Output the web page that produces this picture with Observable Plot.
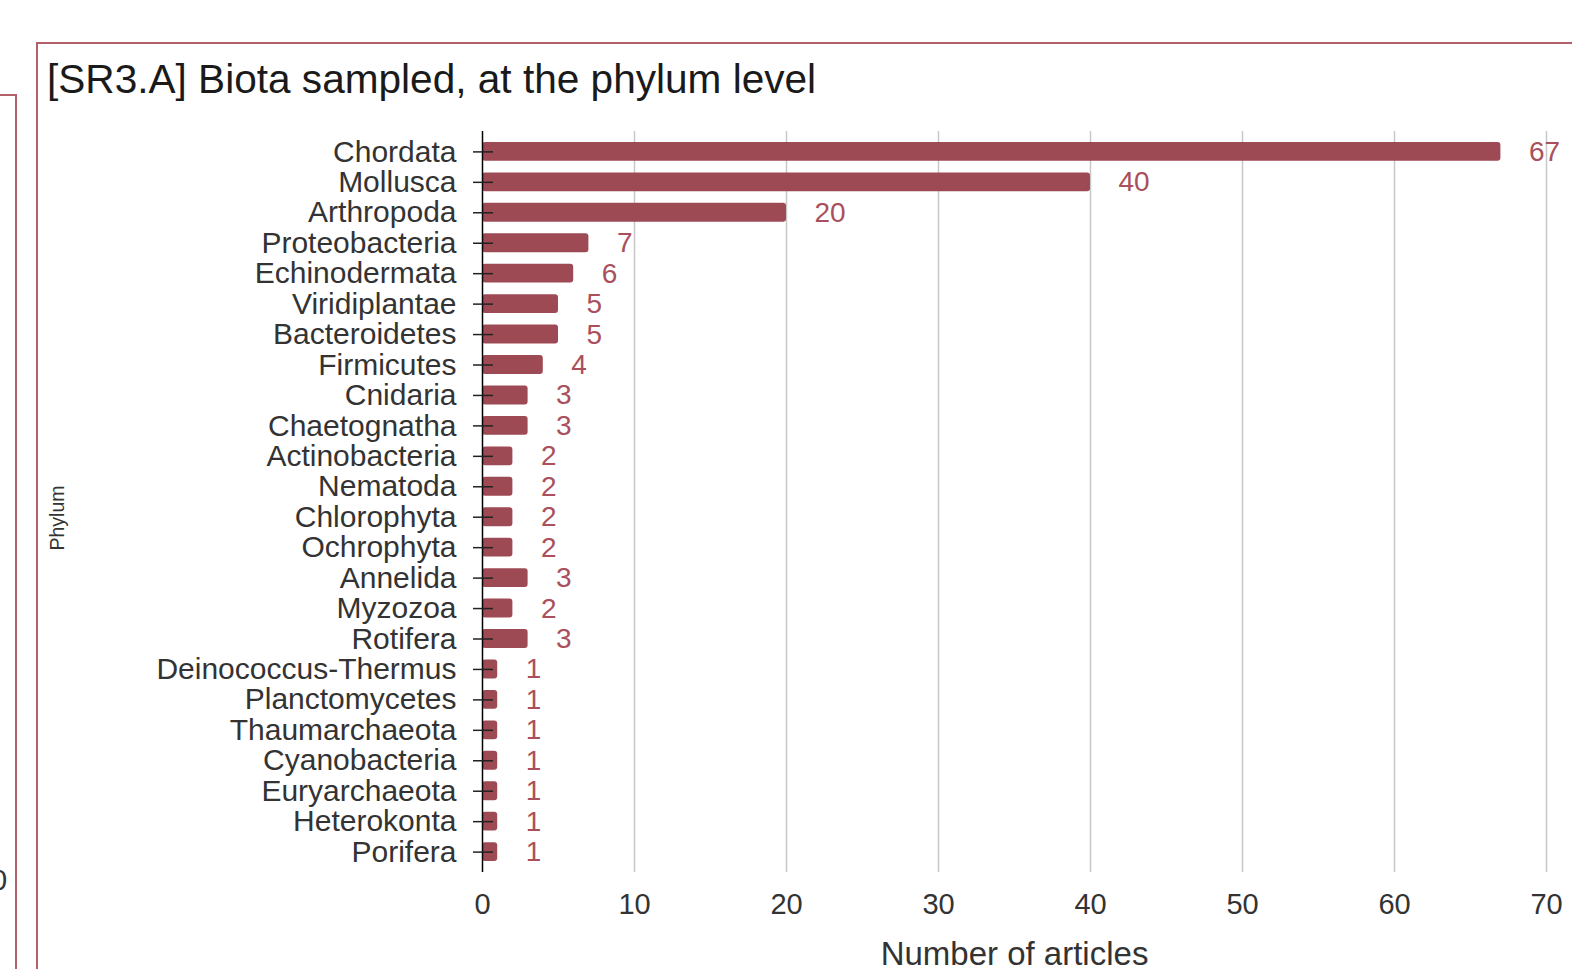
<!DOCTYPE html>
<html>
<head>
<meta charset="utf-8">
<script src="https://cdn.jsdelivr.net/npm/d3@7"></script>
<script src="https://cdn.jsdelivr.net/npm/@observablehq/plot@0.6"></script>
<style>
  html, body { margin: 0; padding: 0; background: #fff; overflow: hidden; }
  #page { position: relative; width: 1572px; height: 969px; overflow: hidden; font-family: "Liberation Sans", Arial, sans-serif; }
  .panel { position: absolute; border: 2px solid #b4606b; box-sizing: border-box; }
  #title { position: absolute; left: 47px; top: 59px; font-size: 40.6px; line-height: 1; color: #1a1a1a; white-space: nowrap; }
  #stub { position: absolute; left: -9px; top: 866px; font-size: 29px; line-height: 1; color: #333; }
  #chart { position: absolute; left: 0; top: 0; }
</style>
</head>
<body>
<div id="page">
  <div class="panel" style="left:-20px; top:94px; width:37px; height:1000px;"></div>
  <div id="stub">0</div>
  <div class="panel" style="left:36px; top:42px; width:1600px; height:1000px;"></div>
  <div id="title">[SR3.A] Biota sampled, at the phylum level</div>
  <div id="chart"></div>
</div>
<script>
// Phyla in display order, top to bottom
const phyla = [
  "Chordata", "Mollusca", "Arthropoda", "Proteobacteria", "Echinodermata",
  "Viridiplantae", "Bacteroidetes", "Firmicutes", "Cnidaria", "Chaetognatha",
  "Actinobacteria", "Nematoda", "Chlorophyta", "Ochrophyta", "Annelida",
  "Myzozoa", "Rotifera", "Deinococcus-Thermus", "Planctomycetes", "Thaumarchaeota",
  "Cyanobacteria", "Euryarchaeota", "Heterokonta", "Porifera"
];
// Number of articles per phylum
const articles = [67, 40, 20, 7, 6, 5, 5, 4, 3, 3, 2, 2, 2, 2, 3, 2, 3, 1, 1, 1, 1, 1, 1, 1];
// x-axis tick values
const xTicks = [0, 10, 20, 30, 40, 50, 60, 70];

const rows = phyla.map((phylum, i) => ({phylum, count: articles[i]}));

const barColor = "#9d4a55";
const labelColor = "#a9505c";
const font = "'Liberation Sans', Arial, sans-serif";

const chart = Plot.plot({
  width: 1572,
  height: 969,
  marginLeft: 482,
  marginRight: 26,
  marginTop: 131,
  marginBottom: 97,
  style: {fontFamily: font, background: "transparent", overflow: "visible"},
  x: {domain: [0, 70]},
  y: {domain: phyla, paddingInner: 0.38, paddingOuter: 0.36, round: false},
  marks: [
    Plot.gridX(xTicks.filter(d => d > 0), {stroke: "#c8c8c8", strokeOpacity: 1, strokeWidth: 1.5}),
    Plot.barX(rows, {x: "count", y: "phylum", fill: barColor, rx: 3}),
    Plot.ruleX([0], {stroke: "#000", strokeWidth: 1.5}),
    // tick marks crossing the vertical axis
    Plot.axisY({tickSize: 20, dx: 11, tickFormat: () => "", label: null, stroke: "#222", strokeWidth: 1.5}),
    Plot.axisY({tickSize: 0, tickPadding: 26, fontSize: 30, color: "#333", label: null}),
    Plot.axisX({ticks: xTicks, tickSize: 0, tickPadding: 21, fontSize: 29, color: "#333", label: null}),
    Plot.text(rows, {x: "count", y: "phylum", text: d => String(d.count), dx: 28, textAnchor: "start", fill: labelColor, fontSize: 28}),
    Plot.text(["Number of articles"], {frameAnchor: "bottom", lineAnchor: "middle", dy: 82, fontSize: 33, fill: "#333"}),
    Plot.text(["Phylum"], {frameAnchor: "left", textAnchor: "middle", lineAnchor: "middle", dx: -425, dy: 16, rotate: -90, fontSize: 19.5, fill: "#333"})
  ]
});

document.getElementById("chart").appendChild(chart);
</script>
</body>
</html>
